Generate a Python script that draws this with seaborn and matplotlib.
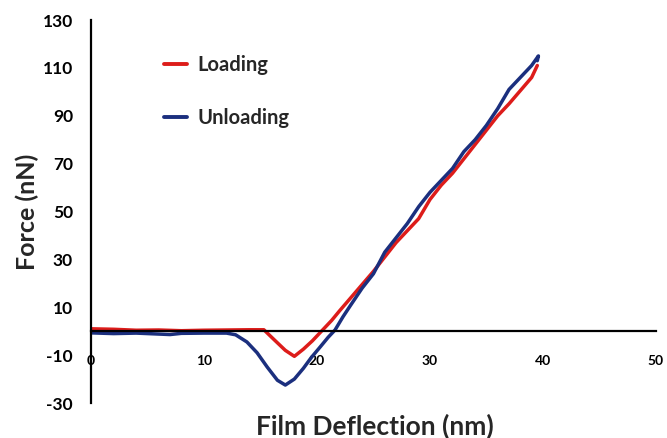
import matplotlib
matplotlib.use("Agg")
import matplotlib.pyplot as plt
import seaborn as sns
import pandas as pd
from matplotlib.lines import Line2D

# ---- data ----
x_load = [0, 2, 4, 6, 8, 10, 12, 14, 15.3, 16.2, 17.2, 18.0, 18.8, 19.6, 20.5, 21.3, 22.0,
          23.0, 24.0, 25.0, 26.0, 27.0, 28.0, 29.0, 30.0, 31.0, 32.0, 33.0, 34.0, 35.0,
          36.0, 37.0, 38.0, 39.0, 39.5]
y_load = [1.0, 0.8, 0.4, 0.5, 0.2, 0.4, 0.5, 0.6, 0.6, -3.5, -8.0, -10.5, -7.5, -4.0, 0.5,
          4.5, 8.5, 14, 19.5, 25, 31, 37, 42, 47, 55, 61, 66, 72, 78, 84, 90, 95, 100.5,
          106, 111]

x_unload = [0, 2, 4, 6, 7, 8, 10, 12, 12.8, 13.8, 14.7, 15.6, 16.5, 17.2, 18.0, 18.8,
            19.5, 20.3, 21.0, 21.6, 22.3, 23.0, 24.0, 25.0, 26.0, 27.0, 28.0, 29.0, 30.0,
            31.0, 32.0, 33.0, 34.0, 35.0, 36.0, 37.0, 38.0, 39.0, 39.6, 39.5]
y_unload = [-0.7, -1.0, -0.8, -1.2, -1.4, -0.9, -0.8, -0.8, -1.5, -4.5, -9, -15, -20.5,
            -22.5, -20, -15.5, -11, -6.5, -2.5, 0.5, 6, 11, 18, 24, 33, 39, 45, 52, 58,
            63, 68, 75, 80, 86, 93, 101, 106, 111, 115, 113]

series_names = ["Loading", "Unloading"]
x_ticks = [0, 10, 20, 30, 40, 50]
y_ticks = [-30, -10, 10, 30, 50, 70, 90, 110, 130]
colors = {"Loading": "#DD1C1A", "Unloading": "#1B2F7E"}

df = pd.concat([
    pd.DataFrame({"x": x_load, "y": y_load, "series": series_names[0]}),
    pd.DataFrame({"x": x_unload, "y": y_unload, "series": series_names[1]}),
])

sns.set_style("white")
plt.rcParams["font.family"] = ["Lato", "DejaVu Sans"]
plt.rcParams["font.weight"] = "bold"

fig = plt.figure(figsize=(6.67, 4.38), dpi=100)
ax = fig.add_axes([0.1364, 0.0799, 0.847, 0.8744])

sns.lineplot(data=df, x="x", y="y", hue="series", palette=colors, sort=False,
             estimator=None, lw=2.5, ax=ax, legend=False)

ax.set_xlim(0, 50)
ax.set_ylim(-30, 130)
ax.set_xticks(x_ticks)
ax.set_yticks(y_ticks)
ax.set_xticklabels([str(t) for t in x_ticks], fontsize=12.5, fontweight="bold")
ax.set_yticklabels([str(t) for t in y_ticks], fontsize=12.5, fontweight="bold")

for s in ["top", "right"]:
    ax.spines[s].set_visible(False)
ax.spines["bottom"].set_position(("data", 0))
for s in ["left", "bottom"]:
    ax.spines[s].set_color("black")
    ax.spines[s].set_linewidth(1.6)

ax.tick_params(axis="x", direction="in", length=6, width=1.5, pad=17, colors="black")
ax.tick_params(axis="y", direction="in", length=6, width=1.5, pad=13, colors="black")

ax.set_xlabel("Film Deflection (nm)", fontsize=19, fontweight="bold")
ax.set_ylabel("Force (nN)", fontsize=18, fontweight="bold")
ax.xaxis.set_label_coords(0.503, -0.027)
ax.yaxis.set_label_coords(-0.092, 0.5)

handles = [Line2D([], [], color=colors[n], lw=2.8) for n in series_names]
ax.legend(handles, series_names, loc="upper left", bbox_to_anchor=(0.097, 0.955),
          frameon=False, handlelength=1.15, handletextpad=0.5,
          labelspacing=1.6, prop={"weight": "bold", "size": 14.5})

fig.savefig("out.png", dpi=100)
